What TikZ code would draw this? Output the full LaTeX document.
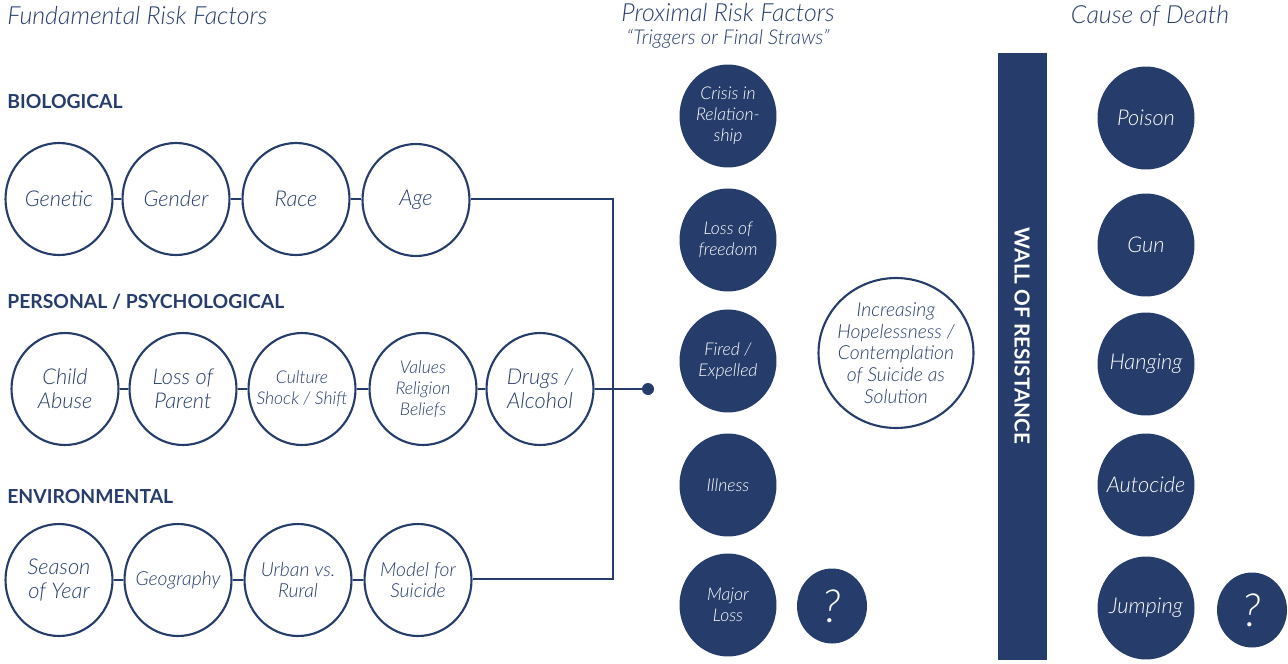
\documentclass[tikz,border=0pt]{standalone}
\usepackage{fontspec}
\setmainfont{Lato}
\IfFontExistsTF{Lato Light Italic}{\newfontfamily\lite{Lato Light Italic}}{\newfontfamily\lite{Lato Italic}}
\usetikzlibrary{shapes.geometric}
\definecolor{navy}{HTML}{263D6C}

\tikzset{
  fact/.style={ellipse,draw=navy,line width=1.2pt,fill=white,minimum width=2.14cm,minimum height=2.24cm,
    inner xsep=-0.25cm,inner ysep=-0.1cm,align=center,text=navy,font=\lite\fontsize{12.4}{13.6}\selectfont},
  small/.style={font=\lite\fontsize{10}{11.8}\selectfont},
  mid/.style={font=\lite\fontsize{11}{12.2}\selectfont},
  trig/.style={ellipse,fill=navy,minimum width=1.94cm,minimum height=2.06cm,inner xsep=-0.25cm,inner ysep=-0.1cm,
    align=center,text=white,font=\lite\fontsize{10}{11.9}\selectfont},
  death/.style={trig,font=\lite\fontsize{12.4}{13}\selectfont},
  query/.style={ellipse,fill=navy,minimum width=1.4cm,minimum height=1.5cm,inner sep=0pt,
    text=white,font=\lite\fontsize{26}{28}\selectfont},
  link/.style={navy,line width=1.2pt},
  head/.style={anchor=west,text=navy,inner sep=0pt,font=\bfseries\fontsize{11}{12}\selectfont},
  title/.style={text=navy,inner sep=0pt,font=\lite\fontsize{14.2}{16}\selectfont},
}

\begin{document}
\begin{tikzpicture}[x=0.02cm,y=-0.02cm]
	\useasboundingbox (0,0) rectangle (1288,663);

	% headings
	\node[title,anchor=west] (fund) at (7,16) {Fundamental Risk Factors};
	\node[title] (prox) at (728,13) {Proximal Risk Factors};
	\node[title,font=\lite\fontsize{11.6}{13}\selectfont] (trg) at (728,39) {“Triggers or Final Straws”};
	\node[title] (cod) at (1150,16) {Cause of Death};

	\node[head] (bio) at (7,102) {BIOLOGICAL};
	\node[head] (psy) at (7,302) {PERSONAL / PSYCHOLOGICAL};
	\node[head] (env) at (7,497) {ENVIRONMENTAL};

	% biological
	\node[fact] (gen) at (59,199) {Genetic};
	\node[fact] (gnd) at (176,199) {Gender};
	\node[fact] (rac) at (296,199) {Race};
	\node[fact] (age) at (416,200) {Age};

	% personal / psychological
	\node[fact] (chd) at (65,389) {Child\\Abuse};
	\node[fact] (par) at (183,389) {Loss of\\Parent};
	\node[fact,small] (cul) at (302,389) {Culture\\Shock / Shift};
	\node[fact,small] (val) at (423,389) {Values\\Religion\\Beliefs};
	\node[fact] (drg) at (540,389) {Drugs /\\Alcohol};

	% environmental
	\node[fact] (sea) at (59,580) {Season\\of Year};
	\node[fact,mid] (geo) at (178,580) {Geography};
	\node[fact,mid] (urb) at (298,580) {Urban vs.\\Rural};
	\node[fact,mid] (mod) at (418,580) {Model for\\Suicide};

	\coordinate (top) at (613,199);
	\coordinate (bot) at (613,579);
	\node[circle,fill=navy,inner sep=0pt,minimum size=0.24cm] (dot) at (648,389) {};

	\draw[link] (gen) -- (gnd) -- (rac) -- (age.west |- rac);
	\draw[link] (chd) -- (par) -- (cul) -- (val) -- (drg) -- (dot);
	\draw[link] (sea) -- (geo) -- (urb) -- (mod);
	\draw[link] (age.east |- top) -- (top) -- (bot) -- (mod.east |- bot);

	% triggers
	\node[trig] (cri) at (728,116) {Crisis in\\Relation-\\ship};
	\node[trig] (fre) at (728,240) {Loss of\\freedom};
	\node[trig] (fir) at (728,361) {Fired /\\Expelled};
	\node[trig] (ill) at (728,485) {Illness};
	\node[trig] (maj) at (728,605) {Major\\Loss};
	\node[query] (q1) at (832,606) {?};

	\node[fact,minimum width=3.1cm,minimum height=3.0cm,font=\lite\fontsize{11}{12.4}\selectfont] (hope) at (896,353)
		{Increasing\\Hopelessness /\\Contemplation\\of Suicide as\\Solution};

	% wall
	\node[fill=navy,inner sep=0pt,minimum width=0.98cm,minimum height=12.14cm] (wall) at (1022.5,356.5) {};
	\node[rotate=-90,text=white,font=\bfseries\fontsize{11.8}{14}\selectfont] (wtx) at (1022,336) {WALL OF RESISTANCE};

	% causes
	\node[death] (poi) at (1146,118) {Poison};
	\node[death] (gun) at (1146,245) {Gun};
	\node[death] (hng) at (1146,364) {Hanging};
	\node[death] (aut) at (1146,485) {Autocide};
	\node[death] (jmp) at (1146,608) {Jumping};
	\node[query] (q2) at (1252,610) {?};
\end{tikzpicture}
\end{document}
